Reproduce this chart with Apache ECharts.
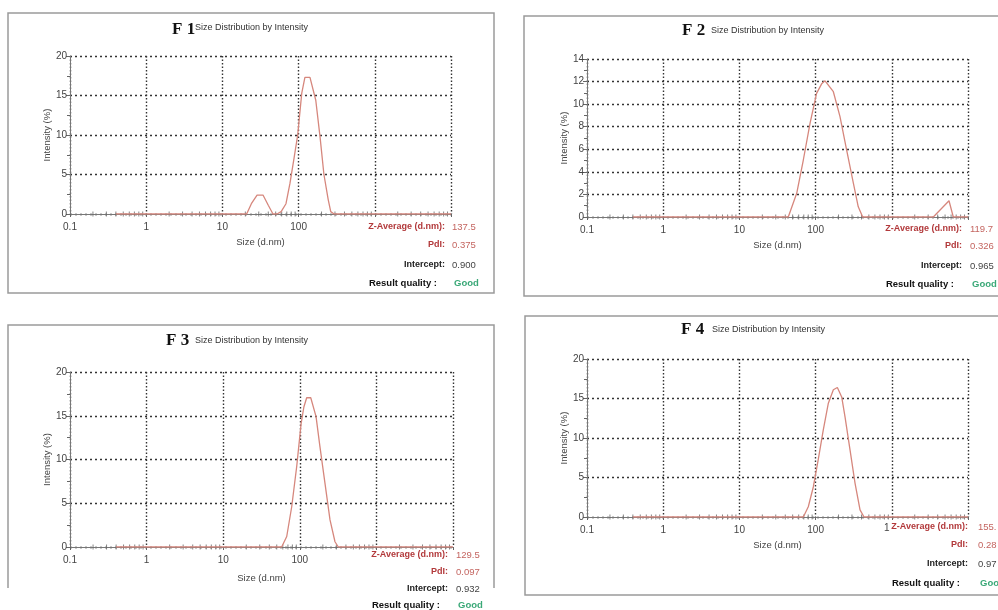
<!DOCTYPE html>
<html>
<head>
<meta charset="utf-8">
<script src="https://cdn.jsdelivr.net/npm/echarts@6/dist/echarts.min.js"></script>
<style>
  html, body { margin: 0; padding: 0; background: #fff; }
  #chart { width: 998px; height: 610px; }
</style>
</head>
<body>
<div id="chart"></div>
<script>
// size distribution by intensity, [size (d.nm), intensity (%)]
var f1Data = [[0.4,0],[20.8,0],[24,1.3],[28.5,2.4],[34.1,2.4],[40,1.1],[46.1,0],[52.1,0],[59,0.3],[68.3,1.3],[77.1,3.9],[87.9,7.3],[97.3,10],[110,15.3],[121,17.3],[141,17.3],[168,14.4],[191,9.8],[215,5],[245,1.8],[264,0.3],[292,0],[10000,0]];
var f2Data = [[0.4,0],[43.8,0],[56.5,2.1],[69,5.05],[84.5,8.3],[103,10.95],[120,11.8],[133,12.07],[141,12.07],[171,11.1],[209,8.9],[256,5.9],[313,3.0],[363,0.9],[415,0],[3506,0],[5633,1.44],[6412,0],[10000,0]];
var f3Data = [[0.4,0],[58,0],[67.5,1.2],[78.4,4.6],[91.1,9.2],[104,14.1],[113,16],[123,17.06],[139,17.06],[163,14.9],[183,11.5],[213,7.3],[248,3.1],[288,0.6],[318,0],[10000,0]];
var f4Data = [[0.4,0],[69,0],[80.2,1.3],[93.3,3.8],[108,7.2],[126,11],[147,14.4],[171,16.1],[193,16.4],[220,15.2],[243,12.7],[283,8.5],[329,4.3],[383,0.9],[432,0],[10000,0]];

var panelNames = ['F 1', 'F 2', 'F 3', 'F 4'];
var yMax = [20, 14, 20, 20];
var yStep = [5, 2, 5, 5];
var zAverage = ['137.5', '119.7', '129.5', '155.'];
var pdi = ['0.375', '0.326', '0.097', '0.28'];
var intercept = ['0.900', '0.965', '0.932', '0.97'];
var quality = ['Good', 'Good', 'Good', 'Good'];

// log minor tick positions along the size axis
var minorTickValues = [];
[0.1, 1, 10, 100, 1000].forEach(function (d) {
  for (var k = 2; k <= 9; k++) minorTickValues.push([+(d * k).toPrecision(3), 0]);
});

var chart = echarts.init(document.getElementById('chart'));

var grids = [
  { left: 70, top: 56, width: 381, height: 158 },
  { left: 587, top: 59, width: 381, height: 158 },
  { left: 70, top: 372, width: 383, height: 175 },
  { left: 587, top: 359, width: 381, height: 158 }
];

var lineColor = '#d6877d';
var sans = 'Liberation Sans, Arial, sans-serif';

var xAxes = [], yAxes = [], series = [];
var allData = [f1Data, f2Data, f3Data, f4Data];

grids.forEach(function (g, i) {
  xAxes.push({
    type: 'log', logBase: 10, min: 0.1, max: 10000, gridIndex: i,
    axisLine: { lineStyle: { color: '#777', width: 1 } },
    axisTick: { show: true, length: 3, lineStyle: { color: '#666' } },
    axisLabel: {
      color: '#444', fontSize: 10, fontFamily: sans, margin: 8,
      formatter: function (v) {
        if (v >= 999) return '';
        return v < 1 ? v.toFixed(1) : String(Math.round(v));
      }
    },
    splitLine: { show: true, lineStyle: { color: '#333', width: 1.4, type: [1.5, 2] } },
    name: 'Size (d.nm)',
    nameLocation: 'middle',
    nameGap: i === 2 ? 26 : 23,
    nameTextStyle: { color: '#444', fontSize: 9.5, fontFamily: sans }
  });
  yAxes.push({
    type: 'value', min: 0, max: yMax[i], interval: yStep[i], gridIndex: i,
    axisLine: { show: true, lineStyle: { color: '#777', width: 1 } },
    axisTick: { show: true, length: 4, lineStyle: { color: '#666' } },
    minorTick: { show: true, splitNumber: 2, length: 3, lineStyle: { color: '#666' } },
    axisLabel: { color: '#444', fontSize: 10, fontFamily: sans, margin: 3 },
    splitLine: { show: true, lineStyle: { color: '#333', width: 1.4, type: [2, 3] } },
    name: 'Intensity (%)',
    nameLocation: 'middle',
    nameGap: 17,
    nameTextStyle: { color: '#444', fontSize: 9.5, fontFamily: sans }
  });
  series.push({
    type: 'scatter', xAxisIndex: i, yAxisIndex: i, silent: true,
    symbol: 'rect', symbolSize: [1, 5], data: minorTickValues,
    itemStyle: { color: '#666' }, z: 3
  });
  series.push({
    type: 'line', xAxisIndex: i, yAxisIndex: i, data: allData[i],
    showSymbol: false, symbol: 'none', smooth: false,
    lineStyle: { color: lineColor, width: 1.3 }, z: 4
  });
});

// panel boxes, titles and result text
var boxes = [
  { type: 'rect', shape: { x: 8, y: 13, width: 486, height: 280 } },
  { type: 'rect', shape: { x: 524, y: 16, width: 490, height: 280 } },
  { type: 'polyline', shape: { points: [[8, 588], [8, 325], [494, 325], [494, 588]] } },
  { type: 'rect', shape: { x: 525, y: 316, width: 490, height: 279 } }
];
var titlePos = [[172, 30, 195, 28], [682, 31, 711, 31], [166, 341, 195, 341], [681, 330, 712, 330]];
var statRight = [445, 962, 448, 968];
var statValueX = [452, 970, 456, 978];
var statY = [[227, 245, 265, 283], [229, 246, 266, 284], [555, 572, 589, 605], [527, 545, 564, 583]];

var graphics = [];
boxes.forEach(function (b) {
  b.style = { fill: 'none', stroke: '#9a9a9a', lineWidth: 1.5 };
  b.silent = true;
  graphics.push(b);
});

function txt(x, y, s, color, size, weight, align, family) {
  return {
    type: 'text', x: x, y: y, silent: true,
    style: {
      text: s, fill: color, fontSize: size, fontWeight: weight || 'normal',
      fontFamily: family || sans, align: align || 'left', verticalAlign: 'middle'
    }
  };
}

for (var i = 0; i < 4; i++) {
  var t = titlePos[i];
  graphics.push(txt(t[0], t[1], panelNames[i], '#111', 17, 'bold', 'left', 'Liberation Serif, Times New Roman, serif'));
  graphics.push(txt(t[2], t[3], 'Size Distribution by Intensity', '#333', 9, 'normal'));
  var r = statRight[i], v = statValueX[i], ys = statY[i];
  graphics.push(txt(r, ys[0], 'Z-Average (d.nm):', '#b2393b', 9, 'bold', 'right'));
  graphics.push(txt(v, ys[0], zAverage[i], '#c46560', 9.5));
  graphics.push(txt(r, ys[1], 'PdI:', '#b2393b', 9, 'bold', 'right'));
  graphics.push(txt(v, ys[1], pdi[i], '#c46560', 9.5));
  graphics.push(txt(r, ys[2], 'Intercept:', '#222', 9, 'bold', 'right'));
  graphics.push(txt(v, ys[2], intercept[i], '#444', 9.5));
  graphics.push(txt(r - 8, ys[3], 'Result quality :', '#111', 9.5, 'bold', 'right'));
  graphics.push(txt(v + 2, ys[3], quality[i], '#3aa877', 9.5, 'bold'));
}
// first digit of the 1000 label peeking out beside the F4 statistics
graphics.push(txt(884, 528, '1', '#444', 10));

chart.setOption({
  animation: false,
  grid: grids,
  xAxis: xAxes,
  yAxis: yAxes,
  series: series,
  graphic: { elements: graphics }
});
</script>
</body>
</html>
